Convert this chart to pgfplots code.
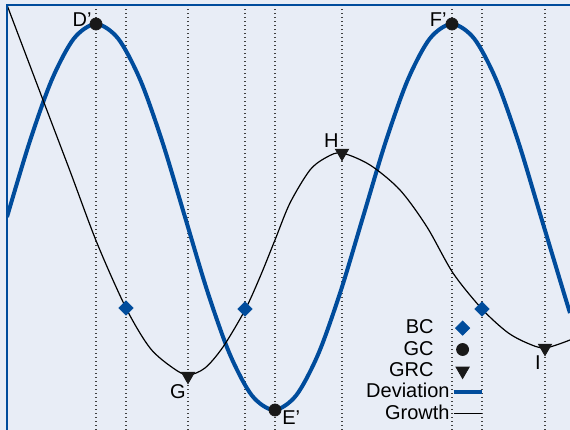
\documentclass[border=0pt]{standalone}
\usepackage{fontspec}
\setmainfont{Liberation Sans}
\usepackage{pgfplots}
\pgfplotsset{compat=1.18}
\definecolor{bg}{RGB}{232,237,246}
\definecolor{dev}{RGB}{0,76,156}

\begin{document}
\begin{tikzpicture}
\fill[bg] (-3.5pt,0pt) rectangle (281.5pt,215pt);
\begin{axis}[
  scale only axis, width=281.5pt, height=212.5pt,
  xmin=7, xmax=570, ymin=0, ymax=425,
  axis line style={draw=none},
  xtick={96,126,188,245,275,342,452,482,545},
  ytick=\empty, xticklabels={}, major tick length=0pt,
  xmajorgrids,
  grid style={black!75, line width=0.55pt, dash pattern=on 0.7pt off 1.3pt},
  legend image code/.code={\draw[mark repeat=2,mark phase=2,#1] plot coordinates {(0pt,0pt) (4.5pt,0pt) (14pt,0pt)};},
  legend cell align=right, legend plot pos=right,
  legend style={draw=none, fill=none, at={(axis cs:484,113)}, anchor=north east,
    inner sep=0pt, row sep=0pt,
    nodes={inner sep=1pt, text height=7.2pt, text depth=1.5pt}},
]
% deviation
\addplot[dev, line width=2pt, smooth, forget plot] coordinates {
(7,213) (29.25,286.9) (51.5,349.5) (73.75,391.3) (96,406) (118.25,391.3) (140.5,349.5)
(162.75,286.9) (185,213) (207.25,139.1) (229.5,76.5) (251.75,34.7) (274,20) (296.25,34.7)
(318.5,76.5) (340.75,139.1) (363,213) (385.25,286.9) (407.5,349.5) (429.75,391.3) (452,406)
(474.25,391.3) (496.5,349.5) (518.75,286.9) (541,213) (563.25,139.1) (570,117)};
% growth
\addplot[black, line width=0.6pt, smooth, forget plot] coordinates {
(7,425) (43,330) (70,259) (97,187) (126,122) (150,82) (173,62) (188,55) (205,62) (223,83)
(245,120) (260,153) (275,190) (290,227) (310,260) (327,273) (342,277) (370,265) (400,240)
(427,203) (453,157) (482,121) (507,98) (527,87) (545,82) (570,90)};
\addplot[only marks, mark=square*, mark size=2.5pt, mark options={rotate=45}, dev] coordinates {(126,122) (245,121) (482,121)};
\addlegendentry{BC\rule{8pt}{0pt}}
\addplot[only marks, mark=*, mark size=3pt, black!90] coordinates {(96,406) (275,20) (452,406)};
\addlegendentry{GC\rule{8pt}{0pt}}
\addplot[only marks, mark=triangle*, mark size=3.8pt, mark options={rotate=180}, black!90] coordinates {(188,54) (342,277) (545,82)};
\addlegendentry{GRC\rule{8pt}{0pt}}
\addlegendimage{dev, line width=2pt}
\addlegendentry{Deviation}
\addlegendimage{black, line width=0.6pt}
\addlegendentry{Growth}
\node[anchor=base east, inner sep=0pt] at (axis cs:92,403) {D’};
\node[anchor=base west, inner sep=0pt] at (axis cs:282,5) {E’};
\node[anchor=base east, inner sep=0pt] at (axis cs:447,403) {F’};
\node[anchor=base east, inner sep=0pt] at (axis cs:186,31) {G};
\node[anchor=base east, inner sep=0pt] at (axis cs:339,282) {H};
\node[anchor=base, inner sep=0pt] at (axis cs:538,60) {I};
\end{axis}
\draw[dev, line width=0.8pt] (0pt,0pt) -- (0pt,212.5pt) -- (281.5pt,212.5pt);
\pgfresetboundingbox
\useasboundingbox (-3.5pt,0pt) rectangle (281.5pt,215pt);
\end{tikzpicture}
\end{document}
